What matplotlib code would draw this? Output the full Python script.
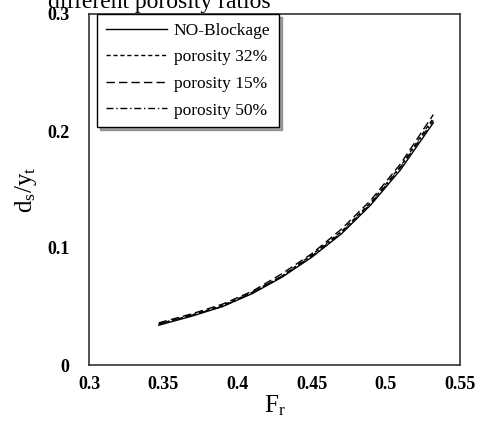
import matplotlib
matplotlib.use("Agg")
import matplotlib.pyplot as plt

plt.rcParams["font.family"] = ["Liberation Serif", "DejaVu Serif"]
plt.rcParams["mathtext.fontset"] = "custom"
plt.rcParams["mathtext.rm"] = "Liberation Serif"
plt.rcParams["mathtext.it"] = "Liberation Serif:italic"

# Froude number samples along the curves
fr = [0.347, 0.37, 0.39, 0.41, 0.43, 0.45, 0.47, 0.49, 0.51, 0.532]

no_blockage = [0.034, 0.042, 0.050, 0.061, 0.075, 0.092, 0.112, 0.137, 0.167, 0.207]
porosity_32 = [0.035, 0.043, 0.051, 0.062, 0.076, 0.094, 0.114, 0.139, 0.170, 0.211]
porosity_15 = [0.036, 0.044, 0.052, 0.063, 0.078, 0.095, 0.116, 0.141, 0.172, 0.214]
porosity_50 = [0.035, 0.043, 0.050, 0.062, 0.076, 0.093, 0.113, 0.138, 0.169, 0.209]

x_ticks = [0.3, 0.35, 0.4, 0.45, 0.5, 0.55]
x_tick_labels = ["0.3", "0.35", "0.4", "0.45", "0.5", "0.55"]
y_ticks = [0, 0.1, 0.2, 0.3]
y_tick_labels = ["0", "0.1", "0.2", "0.3"]

fig = plt.figure(figsize=(4.8, 4.22), dpi=100)
ax = fig.add_axes([89 / 480, 1 - 365 / 422, 371 / 480, 351 / 422])

ax.plot(fr, no_blockage, color="black", lw=1.0, label="NO-Blockage")
ax.plot(fr, porosity_32, color="black", lw=1.0, dashes=(3, 2), label="porosity 32%")
ax.plot(fr, porosity_15, color="black", lw=1.0, dashes=(6, 3), label="porosity 15%")
ax.plot(fr, porosity_50, color="black", lw=1.0, dashes=(5, 2, 1, 2), label="porosity 50%")

ax.set_xlim(0.3, 0.55)
ax.set_ylim(0, 0.3)
ax.set_xticks(x_ticks)
ax.set_xticklabels(x_tick_labels, fontweight="bold", fontsize=13)
ax.set_yticks(y_ticks)
ax.set_yticklabels(y_tick_labels, fontweight="bold", fontsize=13)
ax.tick_params(axis="x", length=0, pad=8)
ax.tick_params(axis="y", length=0, pad=14)
for s in ax.spines.values():
    s.set_linewidth(1.2)
    s.set_color("#333333")

ax.set_xlabel(r"$\mathrm{F_r}$", fontsize=18, labelpad=0)
ax.set_ylabel(r"$\mathrm{d_s/y_t}$", fontsize=18, labelpad=6)

leg = ax.legend(loc="upper left", bbox_to_anchor=(0.022, 1.0), frameon=True,
                fancybox=False, shadow=True, fontsize=12.5, handlelength=3.5,
                borderaxespad=0, labelspacing=0.6, handletextpad=0.4,
                borderpad=0.5)
leg.get_frame().set_edgecolor("black")
leg.get_frame().set_linewidth(1.0)

fig.text(48 / 480, 1 - 8 / 422, "different porosity ratios", fontsize=17,
         va="baseline", ha="left")

fig.savefig("out.png", dpi=100)
